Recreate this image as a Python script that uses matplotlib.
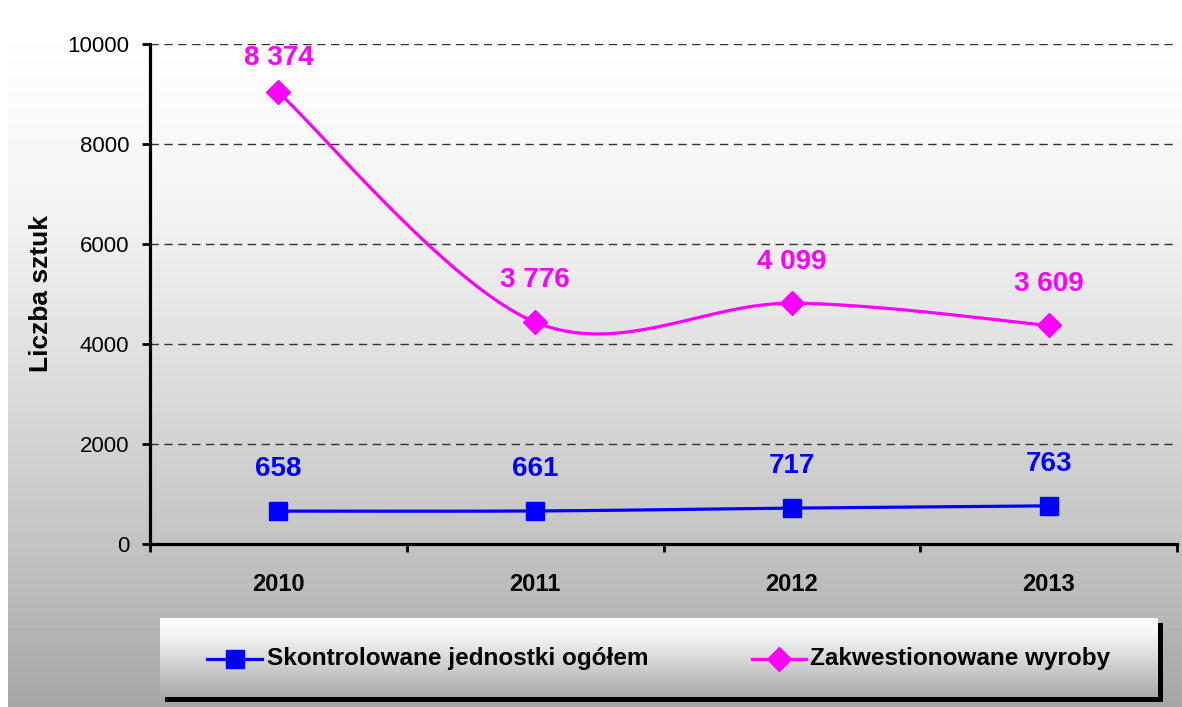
import numpy as np
import matplotlib
matplotlib.use("Agg")
import matplotlib.pyplot as plt
from matplotlib.patches import FancyBboxPatch, Rectangle

plt.rcParams['font.family'] = ['Liberation Sans', 'DejaVu Sans']

years = ['2010', '2011', '2012', '2013']
skontrolowane = [658, 661, 717, 763]
zakwestionowane = [8374, 3776, 4099, 3609]
labels_blue = ['658', '661', '717', '763']
labels_mag = ['8 374', '3 776', '4 099', '3 609']

# stacked line chart: second series sits on top of the first
stacked = [a + b for a, b in zip(skontrolowane, zakwestionowane)]

W, H = 1182, 707
fig = plt.figure(figsize=(W / 100, H / 100), dpi=100)
fig.patch.set_facecolor('white')


def smooth(xs, ys, n=40):
    # catmull-rom smoothing like the spreadsheet's smoothed line
    pts = np.column_stack([np.asarray(xs, float), np.asarray(ys, float)])
    pts = np.vstack([pts[0], pts, pts[-1]])
    out = []
    for i in range(1, len(pts) - 2):
        t = np.linspace(0, 1, n)[:, None]
        m0 = (pts[i + 1] - pts[i - 1]) / 2
        m1 = (pts[i + 2] - pts[i]) / 2
        h00 = 2 * t**3 - 3 * t**2 + 1
        h10 = t**3 - 2 * t**2 + t
        h01 = -2 * t**3 + 3 * t**2
        h11 = t**3 - t**2
        out.append(h00 * pts[i] + h10 * m0 + h01 * pts[i + 1] + h11 * m1)
    out = np.vstack(out)
    return out[:, 0], out[:, 1]


# background with rounded corners and vertical grey gradient
bg = fig.add_axes([0, 0, 1, 1])
bg.axis('off')
rows = np.arange(H)
shade = np.interp(rows, [28, 200, 300, 400, 540, 707], [255, 244, 231, 217, 196, 166]) / 255
grad = np.repeat(shade[:, None], 2, axis=1)
im = bg.imshow(grad, cmap='gray', vmin=0, vmax=1, extent=[0, W + 20, H, 0], aspect='auto')
box = FancyBboxPatch((8, 28), W + 40, H, boxstyle='round,pad=0,rounding_size=16',
                     facecolor='none', edgecolor='none', transform=bg.transData)
bg.add_patch(box)
im.set_clip_path(box)

# legend box with shadow
bg.add_patch(Rectangle((165, 623), 998, 79, facecolor='black', edgecolor='none'))
lg_shade = np.interp(np.arange(79), [0, 20, 79], [255, 240, 168]) / 255
bg.imshow(np.repeat(lg_shade[:, None], 2, axis=1), cmap='gray', vmin=0, vmax=1,
          extent=[160, 1158, 697, 618], aspect='auto', zorder=2)
bg.set_xlim(0, W)
bg.set_ylim(H, 0)
bg.plot([207, 234.5, 262], [659, 659, 659], color='#0000FF', lw=2.3, marker='s',
        markersize=13, markevery=[1], zorder=3)
bg.plot([752, 779, 806], [659, 659, 659], color='#FF00FF', lw=2.3, marker='D',
        markersize=12, markevery=[1], zorder=3)
bg.text(267, 659, 'Skontrolowane jednostki ogółem', fontsize=17.5, fontweight='bold',
        va='center', ha='left', zorder=4)
bg.text(810, 659, 'Zakwestionowane wyroby', fontsize=17.5, fontweight='bold',
        va='center', ha='left', zorder=4)

# main axes
ax = fig.add_axes([150 / W, 1 - 544 / H, (1177 - 150) / W, (544 - 44) / H])
ax.patch.set_alpha(0)
x = np.arange(len(years))

for vals, col, mk, ms in [(skontrolowane, '#0000FF', 's', 13),
                          (stacked, '#FF00FF', 'D', 12)]:
    sx, sy = smooth(x, vals)
    ax.plot(sx, sy, color=col, lw=2.3, zorder=3, clip_on=False)
    ax.plot(x, vals, linestyle='none', marker=mk, markersize=ms, color=col,
            zorder=4, clip_on=False)

for xi, v, t in zip(x, skontrolowane, labels_blue):
    ax.annotate(t, (xi, v), xytext=(0, 30), textcoords='offset points',
                ha='center', va='center', color='#0000FF', fontsize=20, fontweight='bold')
for i, (xi, v, t) in enumerate(zip(x, stacked, labels_mag)):
    off = 25 if i == 0 else 30
    ax.annotate(t, (xi, v), xytext=(0, off), textcoords='offset points',
                ha='center', va='center', color='#FF00FF', fontsize=20, fontweight='bold')

ax.set_xlim(-0.5, len(years) - 0.5)
ax.set_ylim(0, 10000)
ax.set_yticks(np.arange(0, 10001, 2000))
ax.set_xticks(x)
ax.set_xticklabels(years, fontsize=17, fontweight='bold')
ax.set_xticks(np.arange(-0.5, len(years)), minor=True)
ax.tick_params(axis='x', which='major', length=0, pad=21)
ax.tick_params(axis='x', which='minor', length=6, width=2, direction='out')
ax.tick_params(axis='y', length=6, width=2, direction='out', labelsize=16, pad=9)
for s in ['top', 'right']:
    ax.spines[s].set_visible(False)
for s in ['left', 'bottom']:
    ax.spines[s].set_linewidth(2.3)
    ax.spines[s].set_color('black')
ax.grid(axis='y', color='#333333', linestyle=(0, (6, 4)), linewidth=1)
ax.set_axisbelow(True)
ax.set_ylabel('Liczba sztuk', fontsize=19, fontweight='bold', labelpad=10)

fig.savefig('out.png', dpi=100)
